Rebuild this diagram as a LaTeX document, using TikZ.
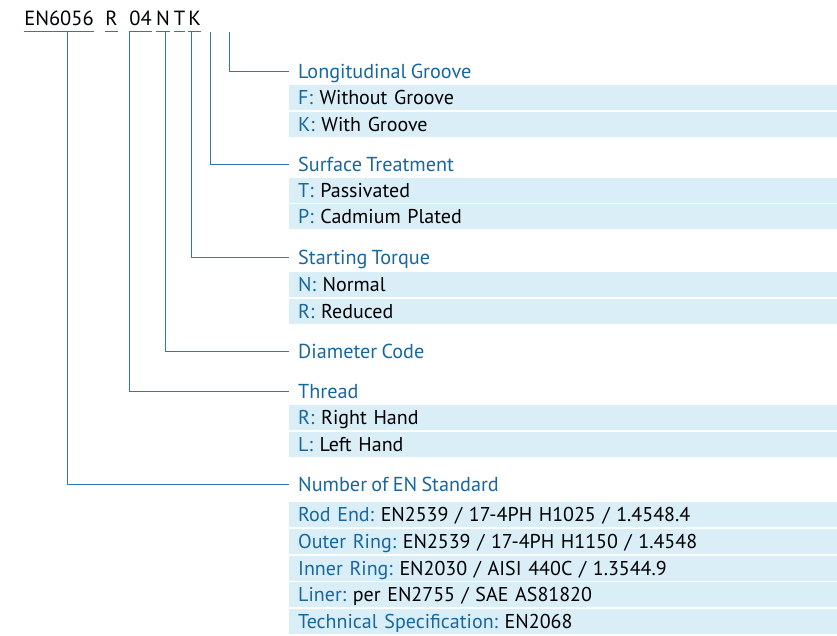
\documentclass[tikz,border=0pt]{standalone}
\usepackage{fontspec}
\setmainfont{PT Sans}[WordSpace=0.8]
\usetikzlibrary{positioning}
\definecolor{codeBlue}{HTML}{17679F}
\definecolor{lineBlue}{HTML}{2C78B4}
\definecolor{rowFill}{HTML}{DAEEF8}
\newcommand{\keylbl}[1]{\textcolor{codeBlue}{#1}}
\frenchspacing
\tikzset{
    % Part number
    code/.style={anchor=base, inner sep=0pt, font=\fontsize{20.5}{24}\selectfont},
    codeline/.style={draw=lineBlue, line width=1pt},
    % Headings & rows
    head/.style={anchor=west, inner xsep=9pt, inner ysep=0pt, text=codeBlue,
                 text height=14pt, text depth=0pt, font=\fontsize{20.2}{24}\selectfont},
    row/.style={anchor=west, fill=rowFill, text width=530pt, inner xsep=9pt, inner ysep=0pt,
                text height=14pt, text depth=0pt, minimum height=25pt, align=left,
                font=\fontsize{20}{24}\selectfont},
    % Leaders
    lead/.style={draw=lineBlue, line width=1pt}
}

\begin{document}
\begin{tikzpicture}[x=1pt, y=1pt]
\useasboundingbox (0,0) rectangle (837,-635);

% part number
\node[code] (en)  at (59,-25)    {EN6056};
\node[code] (thr) at (111.5,-25) {R};
\node[code] (dia) at (140.5,-25) {04};
\node[code] (tor) at (163,-25)   {N};
\node[code] (srf) at (179.5,-25) {T};
\node[code] (grv) at (194.5,-25) {K};

\foreach \n in {en, thr, dia, tor, srf, grv}
    \draw[codeline] ([yshift=-6.5pt]\n.base west) -- ([yshift=-6.5pt]\n.base east);

% leader start points
\coordinate (enTop)  at (67,-31.5);
\coordinate (thrTop) at (129,-31.5);
\coordinate (diaTop) at (165,-31.5);
\coordinate (torTop) at (191,-31.5);
\coordinate (srfTop) at (210,-31.5);
\coordinate (grvTop) at (229,-31.5);

% Longitudinal Groove
\node[head] (grvHead) at (289,-71) {Longitudinal Groove};
\node[row] (grvF) at (289,-97)  {\keylbl{F:} Without Groove};
\node[row] (grvK) at (289,-124) {\keylbl{K:} With Groove};

% Surface Treatment
\node[head] (srfHead) at (289,-164) {Surface Treatment};
\node[row] (srfT) at (289,-190) {\keylbl{T:} Passivated};
\node[row] (srfP) at (289,-216) {\keylbl{P:} Cadmium Plated};

% Starting Torque
\node[head] (torHead) at (289,-257) {Starting Torque};
\node[row] (torN) at (289,-284) {\keylbl{N:} Normal};
\node[row] (torR) at (289,-311) {\keylbl{R:} Reduced};

% Diameter Code
\node[head] (diaHead) at (289,-351) {Diameter Code};

% Thread
\node[head] (thrHead) at (289,-391) {Thread};
\node[row] (thrR) at (289,-417) {\keylbl{R:} Right Hand};
\node[row] (thrL) at (289,-444) {\keylbl{L:} Left Hand};

% Number of EN Standard
\node[head] (enHead) at (289,-484) {Number of EN Standard};
\node[row] (enRod)   at (289,-514) {\keylbl{Rod End:} EN2539 / 17-4PH H1025 / 1.4548.4};
\node[row] (enOuter) at (289,-541) {\keylbl{Outer Ring:} EN2539 / 17-4PH H1150 / 1.4548};
\node[row] (enInner) at (289,-568) {\keylbl{Inner Ring:} EN2030 / AISI 440C / 1.3544.9};
\node[row] (enLiner) at (289,-594) {\keylbl{Liner:} per EN2755 / SAE AS81820};
\node[row] (enSpec)  at (289,-621) {\keylbl{Technical Specification:} EN2068};

% leaders
\draw[lead] (grvTop) |- (grvHead.west);
\draw[lead] (srfTop) |- (srfHead.west);
\draw[lead] (torTop) |- (torHead.west);
\draw[lead] (diaTop) |- (diaHead.west);
\draw[lead] (thrTop) |- (thrHead.west);
\draw[lead] (enTop)  |- (enHead.west);

\end{tikzpicture}
\end{document}
